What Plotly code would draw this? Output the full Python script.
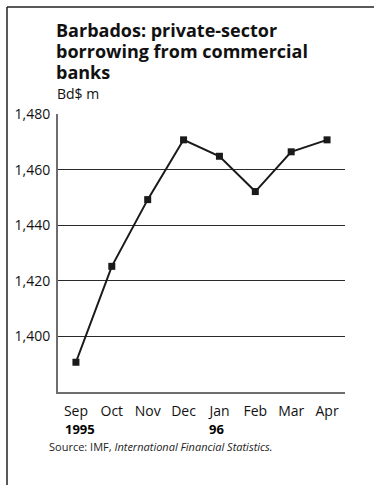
import plotly.graph_objects as go

months = ["Sep", "Oct", "Nov", "Dec", "Jan", "Feb", "Mar", "Apr"]
years = {0: "1995", 4: "96"}
values = [1390.7, 1425.2, 1449.2, 1470.7, 1464.8, 1452.1, 1466.4, 1470.7]
y_ticks = [1400, 1420, 1440, 1460, 1480]
y_ticktext = ["1,400", "1,420", "1,440", "1,460", "1,480"]
title_lines = ["Barbados: private-sector", "borrowing from commercial", "banks"]
unit_label = "Bd$ m"
source_text = "Source: IMF, <i>International Financial Statistics.</i>"

W, H = 374, 485
L, R, T, B = 58, 345, 114, 392


def px(xp):
    return (xp - L) / (R - L)


def py(yp):
    return (B - yp) / (B - T)


FONT = "Open Sans"

fig = go.Figure()
fig.add_trace(go.Scatter(
    x=list(range(len(months))), y=values, mode="lines+markers",
    line=dict(color="#1a1a1a", width=2),
    marker=dict(symbol="square", size=7, color="#1a1a1a"),
    hoverinfo="skip", showlegend=False,
))

fig.update_layout(
    width=W, height=H,
    margin=dict(l=L, r=W - R, t=T, b=H - B, pad=0),
    paper_bgcolor="white", plot_bgcolor="white",
    font=dict(family=FONT, color="#111"),
    xaxis=dict(range=[-0.5, 7.5], tickvals=list(range(len(months))), ticktext=months,
               showgrid=False, zeroline=False, showline=True, linecolor="#6e6e6e",
               linewidth=2, ticks="", ticklabelstandoff=5, automargin=False,
               tickfont=dict(size=14, family=FONT, color="#111")),
    yaxis=dict(range=[1380, 1480], tickvals=y_ticks, ticktext=y_ticktext,
               showgrid=True, gridcolor="#2a2a2a", gridwidth=1, zeroline=False,
               showline=True, linecolor="#6e6e6e", linewidth=2, ticks="",
               ticklabelstandoff=3, automargin=False,
               tickfont=dict(size=14, family=FONT, color="#111")),
)

# year labels
for i, yr in years.items():
    fig.add_annotation(x=i - 0.36, y=py(418), xref="x", yref="paper", text="<b>" + yr + "</b>",
                       showarrow=False, xanchor="left", yanchor="top",
                       font=dict(size=13, family=FONT, color="#000"))

# title: base size 16 gives ~21px leading, glyphs enlarged to 18px
title_html = "<br>".join('<span style="font-size:18px"><b>' + t + "</b></span>" for t in title_lines)
fig.add_annotation(x=px(54), y=py(16), xref="paper", yref="paper",
                   text=title_html,
                   showarrow=False, xanchor="left", yanchor="top", align="left",
                   font=dict(size=16, family=FONT, color="#111"))
fig.add_annotation(x=px(55), y=py(82), xref="paper", yref="paper", text=unit_label,
                   showarrow=False, xanchor="left", yanchor="top", align="left",
                   font=dict(size=14, family=FONT, color="#111"))

# source
fig.add_annotation(x=px(47), y=py(437), xref="paper", yref="paper",
                   text=source_text,
                   showarrow=False, xanchor="left", yanchor="top", align="left",
                   font=dict(size=11, family=FONT, color="#222"))

# frame
fig.add_shape(type="line", xref="paper", yref="paper", x0=px(7), x1=px(7), y0=py(7), y1=py(H + 2),
              line=dict(color="#222", width=1.5))
fig.add_shape(type="line", xref="paper", yref="paper", x0=px(7), x1=px(W + 2), y0=py(7), y1=py(7),
              line=dict(color="#222", width=1.5))

fig.write_html("out.html", config={"displayModeBar": False},
               post_script="document.body.style.margin='0';document.body.style.overflow='hidden';")
